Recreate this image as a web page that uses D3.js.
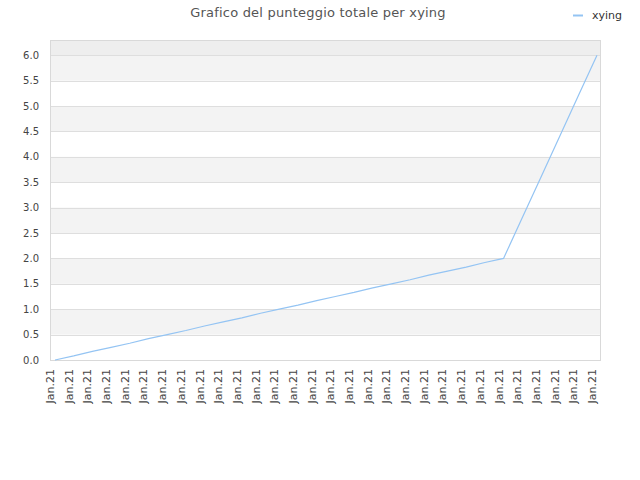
<!DOCTYPE html>
<html>
<head>
<meta charset="utf-8">
<script src="https://cdn.jsdelivr.net/npm/d3@7"></script>
<style>
  body { margin: 0; background: #fff; }
  svg { font-family: "DejaVu Sans", sans-serif; }
</style>
</head>
<body>
<div id="chart"></div>
<script>
// data
const title = "Grafico del punteggio totale per xying"
const seriesName = "xying"
const dates = ["Jan.21","Jan.21","Jan.21","Jan.21","Jan.21","Jan.21","Jan.21","Jan.21","Jan.21","Jan.21",
               "Jan.21","Jan.21","Jan.21","Jan.21","Jan.21","Jan.21","Jan.21","Jan.21","Jan.21","Jan.21",
               "Jan.21","Jan.21","Jan.21","Jan.21","Jan.21","Jan.21","Jan.21","Jan.21","Jan.21","Jan.21"]
const scores = [0, 0.08, 0.17, 0.25, 0.33, 0.42, 0.5, 0.58, 0.67, 0.75,
                0.83, 0.92, 1.0, 1.08, 1.17, 1.25, 1.33, 1.42, 1.5, 1.58,
                1.67, 1.75, 1.83, 1.92, 2.0, 2.8, 3.6, 4.4, 5.2, 6.0]
const yTicks = [0, 0.5, 1, 1.5, 2, 2.5, 3, 3.5, 4, 4.5, 5, 5.5, 6]

const w = 640
const h = 480
const pLeft = 50, pRight = 600, pTop = 40, pBottom = 360
const lineColor = "#94c4f3"

const svg = d3.select("#chart")
  .append("svg")
  .attr("width", w)
  .attr("height", h)

// points sit a little inside the frame
const x = d3.scalePoint()
  .domain(d3.range(scores.length))
  .range([pLeft + 5, pRight - 3])

const y = d3.scaleLinear()
  .domain([0, 6.3])
  .range([pBottom, pTop])

// alternating bands
const bands = svg.append("g")
bands.selectAll("rect")
  .data(yTicks.filter((d, i) => i % 2 == 1))
  .enter()
  .append("rect")
  .attr("x", pLeft)
  .attr("width", pRight - pLeft)
  .attr("y", d => y(d + 0.5))
  .attr("height", d => y(d) - y(d + 0.5))
  .style("fill", "#f3f3f3")

// band above the last tick
bands.append("rect")
  .attr("x", pLeft)
  .attr("width", pRight - pLeft)
  .attr("y", pTop)
  .attr("height", y(6) - pTop)
  .style("fill", "#eeeeee")

// grid lines
svg.append("g")
  .selectAll("line")
  .data(yTicks)
  .enter()
  .append("line")
  .attr("x1", pLeft)
  .attr("x2", pRight)
  .attr("y1", d => Math.round(y(d)) + 0.5)
  .attr("y2", d => Math.round(y(d)) + 0.5)
  .style("stroke", "#dedede")

// plot frame
svg.append("rect")
  .attr("x", pLeft + 0.5)
  .attr("y", pTop + 0.5)
  .attr("width", pRight - pLeft)
  .attr("height", pBottom - pTop)
  .style("fill", "none")
  .style("stroke", "#d9d9d9")

// y labels
svg.append("g")
  .selectAll("text")
  .data(yTicks)
  .enter()
  .append("text")
  .attr("x", 39)
  .attr("y", d => y(d))
  .attr("dy", "0.35em")
  .attr("text-anchor", "end")
  .style("font-size", "10px")
  .style("fill", "#444")
  .text(d => d3.format(".1f")(d))

// x labels, rotated
svg.append("g")
  .selectAll("text")
  .data(dates)
  .enter()
  .append("text")
  .attr("transform", (d, i) => "translate(" + (x(i) - 1) + "," + 369 + ") rotate(-90)")
  .attr("text-anchor", "end")
  .style("font-size", "11px")
  .style("fill", "#444")
  .text(d => d)

// the line
const line = d3.line()
  .x((d, i) => x(i))
  .y(d => y(d))

svg.append("path")
  .datum(scores)
  .attr("d", line)
  .style("fill", "none")
  .style("stroke", lineColor)
  .style("stroke-width", 1.2)

// title
svg.append("text")
  .attr("x", 318)
  .attr("y", 17)
  .attr("text-anchor", "middle")
  .style("font-size", "13px")
  .style("letter-spacing", "0.2px")
  .style("fill", "#555")
  .text(title)

// legend
svg.append("line")
  .attr("x1", 573)
  .attr("x2", 583)
  .attr("y1", 15.5)
  .attr("y2", 15.5)
  .style("stroke", lineColor)
  .style("stroke-width", 2)

svg.append("text")
  .attr("x", 592)
  .attr("y", 19)
  .style("font-size", "11px")
  .style("fill", "#333")
  .text(seriesName)
</script>
</body>
</html>
